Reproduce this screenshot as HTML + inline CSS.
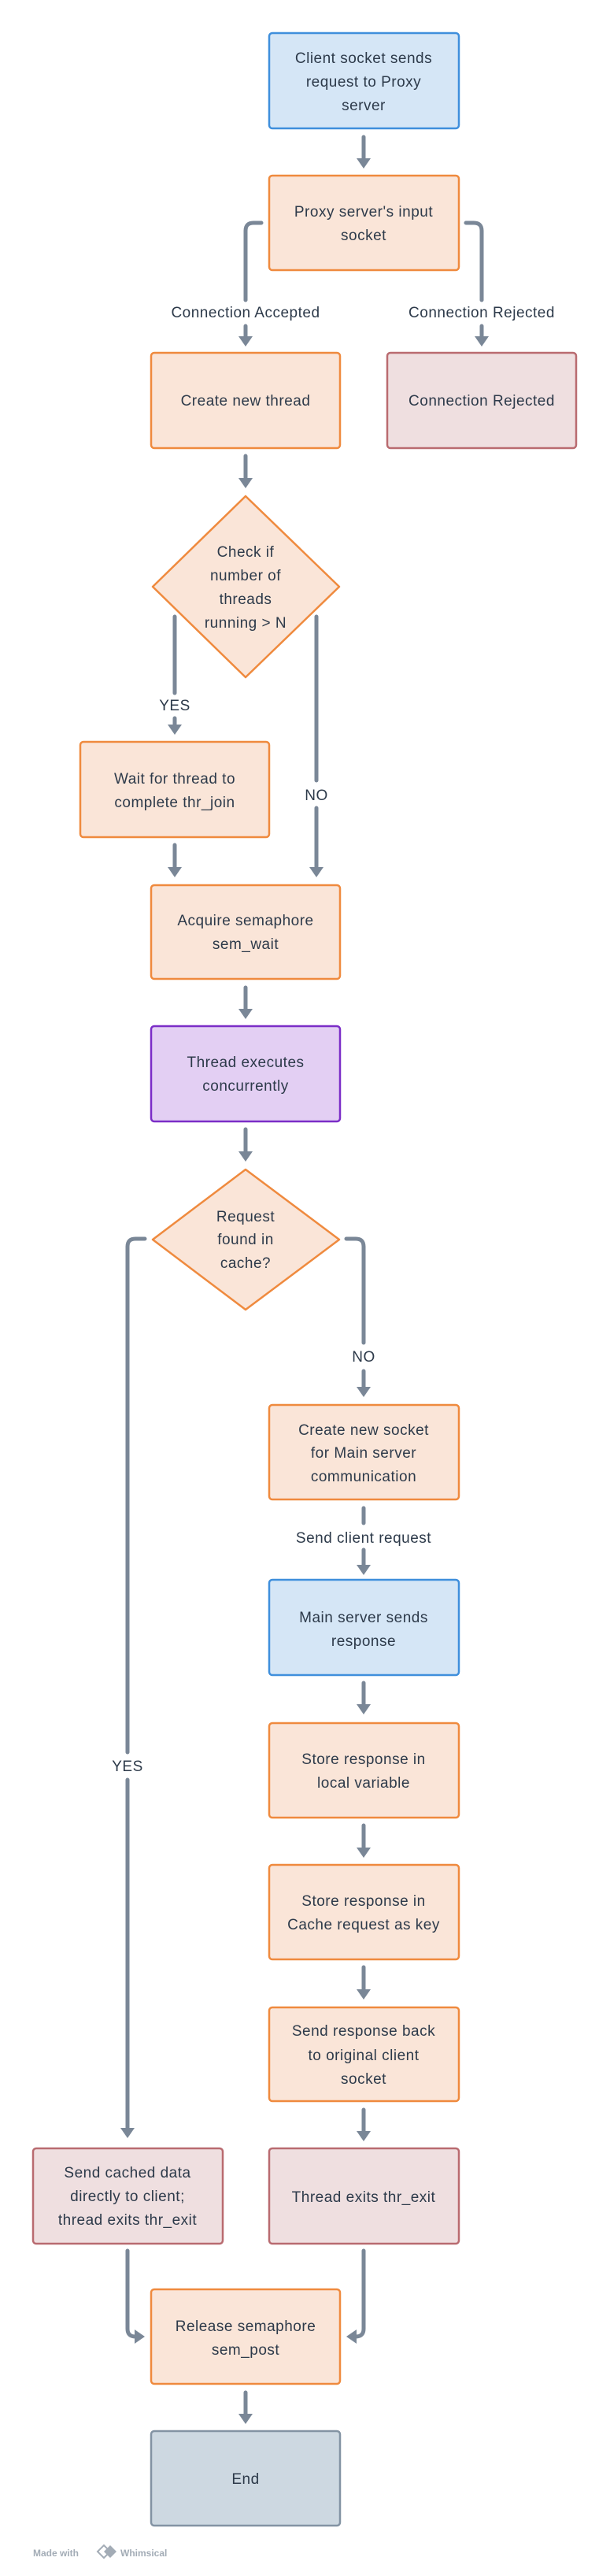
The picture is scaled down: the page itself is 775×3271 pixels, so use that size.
<!DOCTYPE html>
<html><head><meta charset="utf-8"><style>
html,body{margin:0;padding:0;background:#fff;}
svg{display:block;}
text{font-family:"Liberation Sans",sans-serif;font-size:19px;letter-spacing:0.5px;fill:#2d3a4a;text-anchor:middle;}
.b{fill:#d5e6f6;stroke:#3f8fdc;stroke-width:2.5;}
.o{fill:#fae5d8;stroke:#ef8a3e;stroke-width:2.5;}
.r{fill:#efdfe0;stroke:#b96b70;stroke-width:2.5;}
.p{fill:#e3cff3;stroke:#7b2dc7;stroke-width:2.5;}
.g{fill:#cdd8e1;stroke:#8393a3;stroke-width:2.5;}
.l{fill:none;stroke:#7a8797;stroke-width:5;stroke-linecap:round;stroke-linejoin:round;}
.h{fill:#7a8797;}
</style></head><body>
<svg width="775" height="3271" viewBox="0 0 775 3271" xmlns="http://www.w3.org/2000/svg">
<rect class="b" x="342" y="42" width="241" height="121" rx="4"/>
<text x="462" y="80">Client socket sends</text><text x="462" y="110">request to Proxy</text><text x="462" y="140">server</text>
<path class="l" d="M462 174V202"/><polygon class="h" points="453,201 471,201 462,214"/>
<rect class="o" x="342" y="223" width="241" height="120" rx="4"/>
<text x="462" y="275">Proxy server's input</text><text x="462" y="305">socket</text>
<path class="l" d="M332 283H322Q312 283 312 293V381"/>
<text x="312" y="403">Connection Accepted</text>
<path class="l" d="M312 414V428"/><polygon class="h" points="303,427 321,427 312,440"/>
<path class="l" d="M592 283H602Q612 283 612 293V381"/>
<text x="612" y="403">Connection Rejected</text>
<path class="l" d="M612 414V428"/><polygon class="h" points="603,427 621,427 612,440"/>
<rect class="o" x="192" y="448" width="240" height="121" rx="4"/>
<text x="312" y="515">Create new thread</text>
<rect class="r" x="492" y="448" width="240" height="121" rx="4"/>
<text x="612" y="515">Connection Rejected</text>
<path class="l" d="M312 579V608"/><polygon class="h" points="303,607 321,607 312,620"/>
<polygon class="o" points="312,630 431,745 312,860 194,745" stroke-linejoin="round"/>
<text x="312" y="707">Check if</text><text x="312" y="737">number of</text><text x="312" y="767">threads</text><text x="312" y="797">running &gt; N</text>
<path class="l" d="M222 783V880"/>
<text x="222" y="902">YES</text>
<path class="l" d="M222 912V921"/><polygon class="h" points="213,920 231,920 222,933"/>
<path class="l" d="M402 783V991"/>
<text x="402" y="1016">NO</text>
<path class="l" d="M402 1026V1102"/><polygon class="h" points="393,1101 411,1101 402,1114"/>
<rect class="o" x="102" y="942" width="240" height="121" rx="4"/>
<text x="222" y="995">Wait for thread to</text><text x="222" y="1025">complete thr_join</text>
<path class="l" d="M222 1073V1102"/><polygon class="h" points="213,1101 231,1101 222,1114"/>
<rect class="o" x="192" y="1124" width="240" height="119" rx="4"/>
<text x="312" y="1175">Acquire semaphore</text><text x="312" y="1205">sem_wait</text>
<path class="l" d="M312 1254V1282"/><polygon class="h" points="303,1281 321,1281 312,1294"/>
<rect class="p" x="192" y="1303" width="240" height="121" rx="4"/>
<text x="312" y="1355">Thread executes</text><text x="312" y="1385">concurrently</text>
<path class="l" d="M312 1434V1463"/><polygon class="h" points="303,1462 321,1462 312,1475"/>
<polygon class="o" points="312,1485 431,1574 312,1663 194,1574" stroke-linejoin="round"/>
<text x="312" y="1551">Request</text><text x="312" y="1580">found in</text><text x="312" y="1610">cache?</text>
<path class="l" d="M184 1573H172Q162 1573 162 1583V2225"/>
<text x="162" y="2249">YES</text>
<path class="l" d="M162 2260V2703"/><polygon class="h" points="153,2702 171,2702 162,2715"/>
<path class="l" d="M440 1573H452Q462 1573 462 1583V1705"/>
<text x="462" y="1729">NO</text>
<path class="l" d="M462 1741V1762"/><polygon class="h" points="453,1761 471,1761 462,1774"/>
<rect class="o" x="342" y="1784" width="241" height="120" rx="4"/>
<text x="462" y="1822">Create new socket</text><text x="462" y="1851">for Main server</text><text x="462" y="1881">communication</text>
<path class="l" d="M462 1915V1934"/>
<text x="462" y="1959">Send client request</text>
<path class="l" d="M462 1968V1988"/><polygon class="h" points="453,1987 471,1987 462,2000"/>
<rect class="b" x="342" y="2006" width="241" height="121" rx="4"/>
<text x="462" y="2060">Main server sends</text><text x="462" y="2090">response</text>
<path class="l" d="M462 2137V2165"/><polygon class="h" points="453,2164 471,2164 462,2177"/>
<rect class="o" x="342" y="2188" width="241" height="120" rx="4"/>
<text x="462" y="2240">Store response in</text><text x="462" y="2270">local variable</text>
<path class="l" d="M462 2318V2347"/><polygon class="h" points="453,2346 471,2346 462,2359"/>
<rect class="o" x="342" y="2368" width="241" height="120" rx="4"/>
<text x="462" y="2420">Store response in</text><text x="462" y="2450">Cache request as key</text>
<path class="l" d="M462 2498V2527"/><polygon class="h" points="453,2526 471,2526 462,2539"/>
<rect class="o" x="342" y="2549" width="241" height="119" rx="4"/>
<text x="462" y="2585">Send response back</text><text x="462" y="2616">to original client</text><text x="462" y="2646">socket</text>
<path class="l" d="M462 2679V2707"/><polygon class="h" points="453,2706 471,2706 462,2719"/>
<rect class="r" x="342" y="2728" width="241" height="121" rx="4"/>
<text x="462" y="2796">Thread exits thr_exit</text>
<rect class="r" x="42" y="2728" width="241" height="121" rx="4"/>
<text x="162" y="2765">Send cached data</text><text x="162" y="2795">directly to client;</text><text x="162" y="2825">thread exits thr_exit</text>
<path class="l" d="M162 2858V2957Q162 2967 172 2967"/><polygon class="h" points="171,2958 171,2976 184,2967"/>
<path class="l" d="M462 2858V2957Q462 2967 452 2967"/><polygon class="h" points="453,2958 453,2976 440,2967"/>
<rect class="o" x="192" y="2907" width="240" height="120" rx="4"/>
<text x="312" y="2960">Release semaphore</text><text x="312" y="2990">sem_post</text>
<path class="l" d="M312 3038V3066"/><polygon class="h" points="303,3065 321,3065 312,3078"/>
<rect class="g" x="192" y="3087" width="240" height="120" rx="4"/>
<text x="312" y="3154">End</text>
<text x="42" y="3246" style="text-anchor:start;font-size:12px;letter-spacing:0;font-weight:bold;fill:#a3acb6">Made with</text>
<polygon points="124,3240 132,3232 140,3240 132,3248" fill="none" stroke="#a3acb6" stroke-width="2"/>
<polygon points="132,3240 140,3232 148,3240 140,3248" fill="#a3acb6"/>
<text x="153" y="3246" style="text-anchor:start;font-size:12px;letter-spacing:0;font-weight:bold;fill:#a3acb6">Whimsical</text>
</svg>
</body></html>
